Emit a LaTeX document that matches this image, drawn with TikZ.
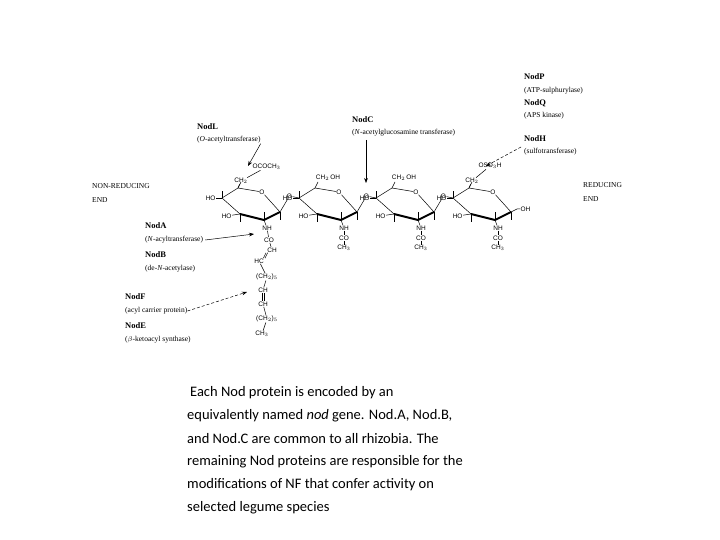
\documentclass[tikz,border=0pt]{standalone}
\usepackage{fontspec}
\setmainfont{Liberation Serif}
\newfontfamily\capfont{Carlito}
\newfontfamily\chemfont{Liberation Sans}
\usetikzlibrary{arrows.meta,calc}
\begin{document}
\begin{tikzpicture}[x=1pt,y=-1pt,
  lbl/.style={anchor=west,inner sep=0pt,font=\fontsize{7.5}{8}\selectfont},
  nod/.style={anchor=west,inner sep=0pt,font=\fontsize{8.5}{9}\bfseries\selectfont},
  ch/.style={inner sep=0.3pt,font=\chemfont\fontsize{6.5}{7}\selectfont},
  bond/.style={line width=0.5pt},
  thick bond/.style={line width=2pt},
  arr/.style={-{Stealth[length=5pt]},line width=0.5pt},
  captxt/.style={anchor=west,inner sep=0pt,font=\capfont\fontsize{14.5}{15}\selectfont}]
\useasboundingbox (0,0) rectangle (720,540);
% rings
\foreach \i/\cx in {1/250,2/327,3/404,4/481}{
  \coordinate (c4\i) at (\cx-28,198);
  \coordinate (c5\i) at (\cx-12,188);
  \node[ch] (o\i) at (\cx+12,192) {O};
  \coordinate (c1\i) at (\cx+30,212);
  \coordinate (c2\i) at (\cx+14,220);
  \coordinate (c3\i) at (\cx-10,214);
  \draw[bond] (c3\i) -- (c4\i) -- (c5\i) -- (o\i) -- (c1\i);
  \draw[thick bond,line join=round] (c3\i) -- (c2\i) -- (c1\i);
  \node[ch,anchor=east] (ho\i) at (\cx-34,198) {HO};
  \draw[bond] (c4\i) -- (ho\i);
  \node[ch,anchor=east] (hob\i) at (\cx-18,216) {HO};
  \draw[bond] (c3\i) -- (hob\i);
  \draw[bond] (c3\i) -- ++(0,8);
  \draw[bond] (c4\i) -- ++(0,-7);
  \draw[bond] (c5\i) -- ++(3,-6);
  \draw[bond] (c2\i) -- ++(0,-8);
  \draw[bond] (c1\i) -- ++(0,8);
  \node[ch] (nh\i) at (\cx+17,228) {NH};
  \draw[bond] (c2\i) -- (nh\i);
}
\foreach \i in {1,2,3}{
  \pgfmathtruncatemacro{\j}{\i+1}
  \node[ch] (g\i) at ($(c1\i)!0.5!(c4\j)+(0,-9)$) {O};
}
% glycosidic bonds
\foreach \i/\j in {1/2,2/3,3/4}{
  \draw[bond] (c1\i) -- (g\i) -- (c4\j);
}
% CH2 substituents
\node[ch] (ch1) at (241,181) {CH$_2$};
\draw[bond] (c51) -- (ch1);
\node[ch,anchor=west] (oac) at (252,167) {OCOCH$_3$};
\draw[bond] (ch1) -- (oac);
\node[ch] (ch2) at (328,178) {CH$_2$\,OH};
\node[ch] (ch3) at (404,178) {CH$_2$\,OH};
\node[ch] (ch4) at (472,181) {CH$_2$};
\draw[bond] (c54) -- (ch4);
\node[ch,anchor=west] (oso) at (478,166) {OSO$_3$H};
\draw[bond] (ch4) -- (oso);
\node[ch,anchor=west] (oh) at (520,209) {OH};
\draw[bond] (c14) -- ++(6,-3) -- (oh);
% acetyl groups
\foreach \i in {2,3,4}{
  \node[ch] (co\i) at ($(nh\i)+(0,10)$) {CO};
  \node[ch] (me\i) at ($(nh\i)+(0,20)$) {CH$_3$};
  \draw[bond] (nh\i) -- (co\i) -- (me\i);
}
% acyl chain
\node[ch] (co1) at (269,240) {CO};
\node[ch] (chA) at (272,250) {CH};
\node[ch] (hcB) at (259,261) {HC};
\node[ch] (ch25a) at (267,277) {(CH$_2$)$_5$};
\node[ch] (chC) at (263,290) {CH};
\node[ch] (chD) at (263,304) {CH};
\node[ch] (ch25b) at (267,319) {(CH$_2$)$_5$};
\node[ch] (me1) at (262,334) {CH$_3$};
\draw[bond] (nh1) -- (co1);
\draw[bond] (co1) -- (chA);
\draw[bond] ([xshift=-0.8pt]chA.south west) -- ([xshift=-0.8pt]hcB.north east);
\draw[bond] ([xshift=0.8pt]chA.south west) -- ([xshift=0.8pt]hcB.north east);
\draw[bond] (hcB) -- (ch25a);
\draw[bond] (ch25a) -- (chC);
\draw[bond] ([xshift=-0.8pt]chC.south) -- ([xshift=-0.8pt]chD.north);
\draw[bond] ([xshift=0.8pt]chC.south) -- ([xshift=0.8pt]chD.north);
\draw[bond] (chD) -- (ch25b);
\draw[bond] (ch25b) -- (me1);
% labels
\node[nod] (nodL) at (197,127) {NodL};
\node[lbl] (nodLt) at (197,140) {(\textit{O}-acetyltransferase)};
\coordinate (aL) at (248,166);
\draw[arr] (nodLt.south east) -- (aL);
\node[lbl] (nre) at (92,186) {NON-REDUCING};
\node[lbl] (nre2) at (92,200) {END};
\node[nod] (nodA) at (145,226) {NodA};
\node[lbl] (nodAt) at (145,240) {(\textit{N}-acyltransferase)};
\coordinate (aA) at (254,234);
\draw[arr] ($(nodAt.east)+(2,0)$) -- (aA);
\node[nod] (nodB) at (145,255) {NodB};
\node[lbl] (nodBt) at (145,269) {(de-\textit{N}-acetylase)};
\node[nod] (nodF) at (125,297) {NodF};
\node[lbl] (nodFt) at (125,311) {(acyl carrier protein)};
\coordinate (aF) at (247,292);
\draw[arr,densely dashed] (nodFt.east) -- (aF);
\node[nod] (nodE) at (125,326) {NodE};
\node[lbl] (nodEt) at (125,340) {($\beta$-ketoacyl synthase)};
\node[nod] (nodC) at (352,120) {NodC};
\node[lbl] (nodCt) at (352,133) {(\textit{N}-acetylglucosamine transferase)};
\coordinate (aC0) at (366,140);
\coordinate (aC) at (366,183);
\draw[arr] (aC0) -- (aC);
\node[nod] (nodP) at (524,77) {NodP};
\node[lbl] (nodPt) at (524,91) {(ATP-sulphurylase)};
\node[nod] (nodQ) at (524,103) {NodQ};
\node[lbl] (nodQt) at (524,116) {(APS kinase)};
\node[nod] (nodH) at (524,139) {NodH};
\node[lbl] (nodHt) at (524,152) {(sulfotransferase)};
\coordinate (aH0) at (521,147);
\coordinate (aH) at (486,166);
\draw[arr,densely dashed] (aH0) -- (aH);
\node[lbl] (re) at (583,185) {REDUCING};
\node[lbl] (re2) at (583,199) {END};
% caption
\node[captxt] (t1) at (190,393) {Each Nod protein is encoded by an};
\node[captxt] (t2) at (187,416) {equivalently named \textit{nod} gene. Nod.A, Nod.B,};
\node[captxt] (t3) at (187,439) {and Nod.C are common to all rhizobia. The};
\node[captxt] (t4) at (187,462) {remaining Nod proteins are responsible for the};
\node[captxt] (t5) at (187,485) {modifications of NF that confer activity on};
\node[captxt] (t6) at (187,508) {selected legume species};
\end{tikzpicture}
\end{document}
